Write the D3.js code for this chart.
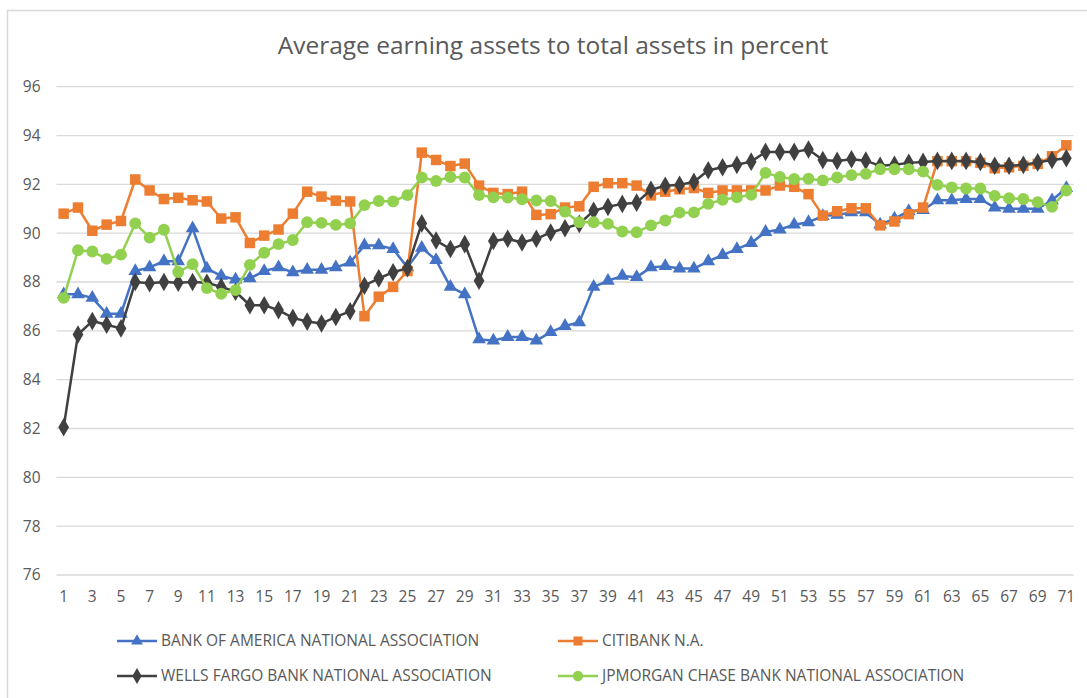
<!DOCTYPE html>
<html>
<head>
<meta charset="utf-8">
<script src="https://cdn.jsdelivr.net/npm/d3@7"></script>
<style>
  body { margin: 0; background: #fff; }
  svg { display: block; font-family: "Open Sans", sans-serif; }
</style>
</head>
<body>
<div id="chart"></div>
<script>
// quarters 1..71
var periods = d3.range(1, 72);

var bankOfAmerica = [
	87.5, 87.5, 87.35, 86.7, 86.7, 88.45, 88.6, 88.85, 88.85, 90.2,
	88.55, 88.25, 88.1, 88.15, 88.45, 88.6, 88.4, 88.5, 88.5, 88.6,
	88.8, 89.5, 89.5, 89.35, 88.6, 89.4, 88.9, 87.8, 87.5, 85.65,
	85.6, 85.75, 85.75, 85.6, 85.95, 86.2, 86.35, 87.8, 88.05, 88.25,
	88.2, 88.6, 88.65, 88.55, 88.55, 88.85, 89.1, 89.35, 89.6, 90.05,
	90.15, 90.35, 90.45, 90.7, 90.75, 90.85, 90.85, 90.35, 90.6, 90.9,
	90.95, 91.35, 91.35, 91.4, 91.4, 91.05, 91.0, 91.0, 91.0, 91.35,
	91.85
];

var citibank = [
	90.8, 91.05, 90.1, 90.35, 90.5, 92.2, 91.75, 91.4, 91.45, 91.35,
	91.3, 90.6, 90.65, 89.6, 89.9, 90.15, 90.8, 91.7, 91.5, 91.33,
	91.3, 86.6, 87.4, 87.8, 88.45, 93.3, 93.0, 92.75, 92.85, 91.95,
	91.65, 91.6, 91.7, 90.75, 90.78, 91.05, 91.1, 91.9, 92.05, 92.05,
	91.95, 91.55, 91.7, 91.8, 91.85, 91.65, 91.75, 91.75, 91.75, 91.75,
	91.95, 91.9, 91.6, 90.72, 90.9, 91.02, 91.02, 90.32, 90.48, 90.78,
	91.05, 92.95, 92.95, 92.95, 92.88, 92.66, 92.7, 92.76, 92.84, 93.15,
	93.6
];

var wellsFargo = [
	82.05, 85.85, 86.4, 86.25, 86.1, 88.0, 87.95, 88.0, 87.97, 88.0,
	87.97, 87.8, 87.6, 87.05, 87.05, 86.85, 86.53, 86.38, 86.3, 86.57,
	86.8, 87.85, 88.15, 88.4, 88.57, 90.4, 89.7, 89.35, 89.55, 88.05,
	89.68, 89.77, 89.62, 89.77, 90.03, 90.2, 90.38, 90.92, 91.08, 91.2,
	91.25, 91.78, 91.94, 91.98, 92.1, 92.58, 92.7, 92.8, 92.93, 93.33,
	93.33, 93.33, 93.43, 93.0, 92.96, 93.03, 92.97, 92.76, 92.8, 92.88,
	92.92, 92.96, 92.96, 92.96, 92.92, 92.76, 92.76, 92.8, 92.9, 93.0,
	93.07
];

var jpmorgan = [
	87.35, 89.3, 89.25, 88.95, 89.12, 90.4, 89.82, 90.14, 88.41, 88.73,
	87.75, 87.52, 87.67, 88.7, 89.2, 89.55, 89.72, 90.45, 90.42, 90.34,
	90.4, 91.15, 91.32, 91.3, 91.56, 92.28, 92.14, 92.3, 92.28, 91.56,
	91.47, 91.46, 91.39, 91.34, 91.32, 90.88, 90.45, 90.45, 90.38, 90.07,
	90.04, 90.32, 90.52, 90.84, 90.85, 91.2, 91.37, 91.47, 91.57, 92.47,
	92.3, 92.22, 92.23, 92.16, 92.28, 92.38, 92.43, 92.62, 92.62, 92.62,
	92.52, 91.98, 91.87, 91.83, 91.83, 91.53, 91.43, 91.4, 91.27, 91.08,
	91.75
];

var yTicks = [76, 78, 80, 82, 84, 86, 88, 90, 92, 94, 96];

var series = [
	{name: "BANK OF AMERICA NATIONAL ASSOCIATION", values: bankOfAmerica, color: "#4472C4", symbol: d3.symbolTriangle, size: 80},
	{name: "CITIBANK N.A.", values: citibank, color: "#ED7D31", symbol: d3.symbolSquare, size: 110},
	{name: "WELLS FARGO BANK NATIONAL ASSOCIATION", values: wellsFargo, color: "#404040", symbol: d3.symbolDiamond, size: 100},
	{name: "JPMORGAN CHASE BANK NATIONAL ASSOCIATION", values: jpmorgan, color: "#92D050", symbol: d3.symbolCircle, size: 110}
];

var width = 1087, height = 698;
var plot = {left: 56.5, right: 1073.5, top: 86.7, bottom: 575};

var svg = d3.select("#chart").append("svg")
	.attr("width", width)
	.attr("height", height);

// chart border
svg.append("rect")
	.attr("x", 7.5).attr("y", 10.5)
	.attr("width", width + 20).attr("height", height + 20)
	.attr("fill", "none")
	.attr("stroke", "#d9d9d9")
	.attr("stroke-width", 1.5);

svg.append("text")
	.attr("x", 553)
	.attr("y", 54)
	.attr("text-anchor", "middle")
	.attr("fill", "#595959")
	.style("font-size", "24.5px")
	.text("Average earning assets to total assets in percent");

var x = d3.scaleBand()
	.domain(periods)
	.range([plot.left, plot.right])
	.padding(0);

var y = d3.scaleLinear()
	.domain([76, 96])
	.range([plot.bottom, plot.top]);

function cx(d, i) { return x(periods[i]) + x.bandwidth() / 2; }

// gridlines
svg.append("g")
	.selectAll("line")
	.data(yTicks)
	.join("line")
	.attr("x1", plot.left).attr("x2", plot.right)
	.attr("y1", function (d) { return y(d); })
	.attr("y2", function (d) { return y(d); })
	.attr("stroke", "#d9d9d9")
	.attr("stroke-width", 1.3);

// y axis labels
var yAxis = svg.append("g")
	.attr("transform", "translate(" + (plot.left - 2) + ",0)")
	.call(d3.axisLeft(y).tickValues(yTicks).tickSize(0).tickPadding(14));
yAxis.select(".domain").remove();
yAxis.selectAll("text")
	.attr("fill", "#595959")
	.style("font-size", "15.5px")
	.style("font-family", "'Open Sans', sans-serif");

// x axis labels, odd periods only
var xAxis = svg.append("g")
	.attr("transform", "translate(0," + plot.bottom + ")")
	.call(d3.axisBottom(x)
		.tickValues(periods.filter(function (p) { return p % 2 === 1; }))
		.tickSize(0).tickPadding(16));
xAxis.select(".domain").remove();
xAxis.selectAll("text")
	.attr("fill", "#595959")
	.style("font-size", "15.5px")
	.style("font-family", "'Open Sans', sans-serif");

var line = d3.line()
	.x(cx)
	.y(function (d) { return y(d); });

series.forEach(function (s) {
	var g = svg.append("g");
	g.append("path")
		.datum(s.values)
		.attr("d", line)
		.attr("fill", "none")
		.attr("stroke", s.color)
		.attr("stroke-width", 2.5)
		.attr("stroke-linejoin", "round");
	g.selectAll("path.marker")
		.data(s.values)
		.join("path")
		.attr("class", "marker")
		.attr("d", d3.symbol().type(s.symbol).size(s.size))
		.attr("transform", function (d, i) {
			return "translate(" + cx(d, i) + "," + y(d) + ")";
		})
		.attr("fill", s.color);
});

// legend
var legendPos = [[117, 641], [558, 641], [117, 676], [558, 676]];
var legend = svg.append("g")
	.selectAll("g")
	.data(series)
	.join("g")
	.attr("transform", function (d, i) {
		return "translate(" + legendPos[i][0] + "," + legendPos[i][1] + ")";
	});
legend.append("line")
	.attr("x1", 0).attr("x2", 40)
	.attr("stroke", function (d) { return d.color; })
	.attr("stroke-width", 2.5);
legend.append("path")
	.attr("d", function (d) { return d3.symbol().type(d.symbol).size(d.size * 0.75)(); })
	.attr("transform", "translate(20,0)")
	.attr("fill", function (d) { return d.color; });
legend.append("text")
	.attr("x", 44)
	.attr("dy", "0.35em")
	.attr("fill", "#595959")
	.style("font-size", "15.5px")
	.text(function (d) { return d.name; });
</script>
</body>
</html>
